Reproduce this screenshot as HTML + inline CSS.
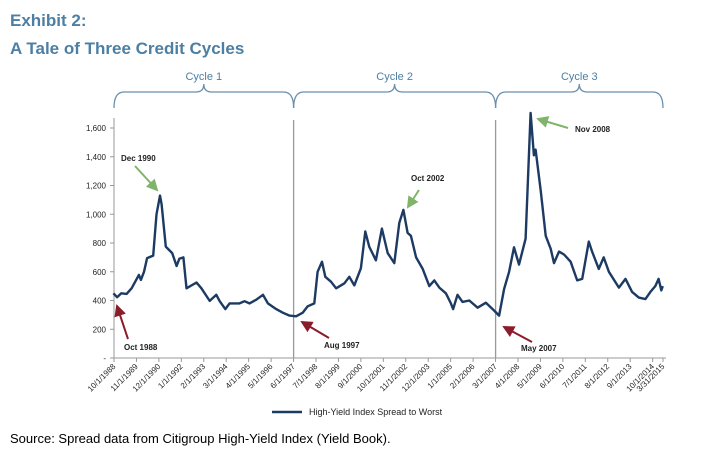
<!DOCTYPE html>
<html><head><meta charset="utf-8"><style>
body{margin:0;background:#fff;font-family:"Liberation Sans",sans-serif}
svg{display:block}
</style></head><body>
<svg id="c" width="728" height="470" xmlns="http://www.w3.org/2000/svg">
<text x="10" y="26" font-size="17" font-weight="bold" fill="#4c7fa3">Exhibit 2:</text>
<text x="10" y="54" font-size="17" font-weight="bold" fill="#4c7fa3">A Tale of Three Credit Cycles</text>
<g id="plot"></g>
<text x="10" y="443" font-size="13" fill="#000">Source: Spread data from Citigroup High-Yield Index (Yield Book).</text>
</svg>
<script>
const dates=[1988.72,1988.9,1989.1,1989.36,1989.6,1989.95,1990.05,1990.2,1990.35,1990.64,1990.8,1990.97,1991.05,1991.25,1991.56,1991.77,1991.9,1992.1,1992.25,1992.73,1992.97,1993.37,1993.69,1993.85,1994.12,1994.33,1994.81,1995.05,1995.29,1995.61,1995.94,1996.18,1996.58,1996.9,1997.22,1997.54,1997.86,1998.1,1998.42,1998.58,1998.79,1998.95,1999.23,1999.47,1999.87,2000.11,2000.35,2000.67,2000.88,2001.07,2001.39,2001.68,2001.96,2002.28,2002.52,2002.72,2002.92,2003.08,2003.33,2003.65,2003.97,2004.21,2004.45,2004.77,2005.01,2005.12,2005.33,2005.57,2005.9,2006.3,2006.7,2007.1,2007.34,2007.58,2007.82,2008.06,2008.3,2008.62,2008.86,2009.02,2009.1,2009.35,2009.59,2009.83,2009.99,2010.23,2010.47,2010.79,2011.11,2011.35,2011.67,2011.83,2012.15,2012.39,2012.64,2013.12,2013.44,2013.76,2014.08,2014.4,2014.64,2014.88,2015.04,2015.17,2015.24];
const spreads=[450,423,450,446,485,578,543,600,695,712,1000,1130,1070,775,730,640,690,700,485,525,485,397,440,395,340,380,380,395,380,405,440,380,340,315,295,290,315,360,380,600,670,565,530,485,520,565,505,625,880,775,680,900,730,660,940,1030,870,850,700,620,500,540,490,450,380,340,440,390,400,350,385,330,295,480,600,770,650,830,1705,1410,1450,1160,850,760,660,740,720,670,540,550,810,740,620,700,600,490,550,460,420,410,460,500,550,470,500];
const yTicks=[0,200,400,600,800,1000,1200,1400,1600];
const xTickLabels=["10/1/1988","11/1/1989","12/1/1990","1/1/1992","2/1/1993","3/1/1994","4/1/1995","5/1/1996","6/1/1997","7/1/1998","8/1/1999","9/1/2000","10/1/2001","11/1/2002","12/1/2003","1/1/2005","2/1/2006","3/1/2007","4/1/2008","5/1/2009","6/1/2010","7/1/2011","8/1/2012","9/1/2013","10/1/2014","3/31/2015"];
const cycleNames=["Cycle 1","Cycle 2","Cycle 3"];
const cycleBounds=[1988.75,1997.42,2007.17,2015.25];
const annLabels=["Oct 1988","Dec 1990","Aug 1997","Oct 2002","May 2007","Nov 2008"];

const X0=114,X1=663,Y0=358,YT=128,T0=1988.75,T1=2015.25;
const xs=t=>X0+(t-T0)/(T1-T0)*(X1-X0);
const ys=v=>Y0-v/1600*(Y0-YT);
const NS="http://www.w3.org/2000/svg";
const g=document.getElementById('plot');
function mk(tag,a,txt){const e=document.createElementNS(NS,tag);for(const k in a)e.setAttribute(k,a[k]);if(txt!=null)e.textContent=txt;g.appendChild(e);return e;}
function lblDate(s){const p=s.split('/');return +p[2]+(+p[0]-1)/12+(+p[1]-1)/365;}

// axes
let e=mk('line',{x1:X0,y1:YT-10,x2:X0,y2:Y0,stroke:'#999','stroke-width':1});

e=mk('line',{x1:X0,y1:Y0,x2:X1+3,y2:Y0,stroke:'#999','stroke-width':1});

yTicks.forEach(v=>{
 const t=mk('line',{x1:X0-4,y1:ys(v),x2:X0,y2:ys(v),stroke:'#999'});
 
 const l=mk('text',{x:X0-8,y:ys(v)+3,'font-size':8,'text-anchor':'end',fill:'#222'},v===0?'-':v.toLocaleString('en-US'));
 
});
xTickLabels.forEach(s=>{
 const x=xs(lblDate(s));
 const t=mk('line',{x1:x,y1:Y0,x2:x,y2:Y0+4,stroke:'#999'});
 
 const l=mk('text',{x:x+2,y:Y0+9,'font-size':8,'text-anchor':'end',fill:'#222',transform:`rotate(-45 ${x+2} ${Y0+9})`},s);
 
});
// cycle dividers and braces
cycleBounds.forEach((b,i)=>{
 if(i>0&&i<cycleBounds.length-1){
  const d=mk('line',{x1:xs(b),y1:YT-8,x2:xs(b),y2:Y0,stroke:'#999','stroke-width':1.3});
  
 }
});
cycleNames.forEach((n,i)=>{
 const a=xs(cycleBounds[i]),b=xs(cycleBounds[i+1]),m=(a+b)/2;
 const p=mk('path',{d:`M${a},108 Q${a},92 ${a+10},92 L${m-8},92 Q${m},92 ${m},84 Q${m},92 ${m+8},92 L${b-10},92 Q${b},92 ${b},108`,fill:'none',stroke:'#6a8fac','stroke-width':1.3});
 
 const t=mk('text',{x:m,y:80,'font-size':11,'text-anchor':'middle',fill:'#4c7fa3'},n);
 
});
// series
const pts=dates.map((d,i)=>xs(d).toFixed(1)+','+ys(spreads[i]).toFixed(1)).join(' ');
e=mk('polyline',{points:pts,fill:'none',stroke:'#1d3a63','stroke-width':2.4,'stroke-linejoin':'round'});

// annotations
mk('defs',{}).innerHTML='<marker id="ar" markerWidth="6" markerHeight="6" refX="5" refY="3" orient="auto"><path d="M0,0 L6,3 L0,6z" fill="context-stroke"/></marker>';
const ann=[[124,350,128,339,117,306,'#8b1c2a'],[121,161,135,166,157,190,'#7fb46a'],[324,348,329,338,302,322,'#8b1c2a'],[411,181,419,190,408,207,'#7fb46a'],[521,351,532,342,504,327,'#8b1c2a'],[575,132,568,128,538,119,'#7fb46a']];
ann.forEach((a,i)=>{
 const ar=mk('line',{x1:a[2],y1:a[3],x2:a[4],y2:a[5],stroke:a[6],'stroke-width':2,'marker-end':'url(#ar)'});
 
 const t=mk('text',{x:a[0],y:a[1],'font-size':8,'font-weight':'bold',fill:'#222'},annLabels[i]);
 
});
// legend
e=mk('line',{x1:272,y1:412,x2:302,y2:412,stroke:'#1d3a63','stroke-width':2.5});

e=mk('text',{x:309,y:415,'font-size':9,fill:'#222'},'High-Yield Index Spread to Worst');

</script>
</body></html>
